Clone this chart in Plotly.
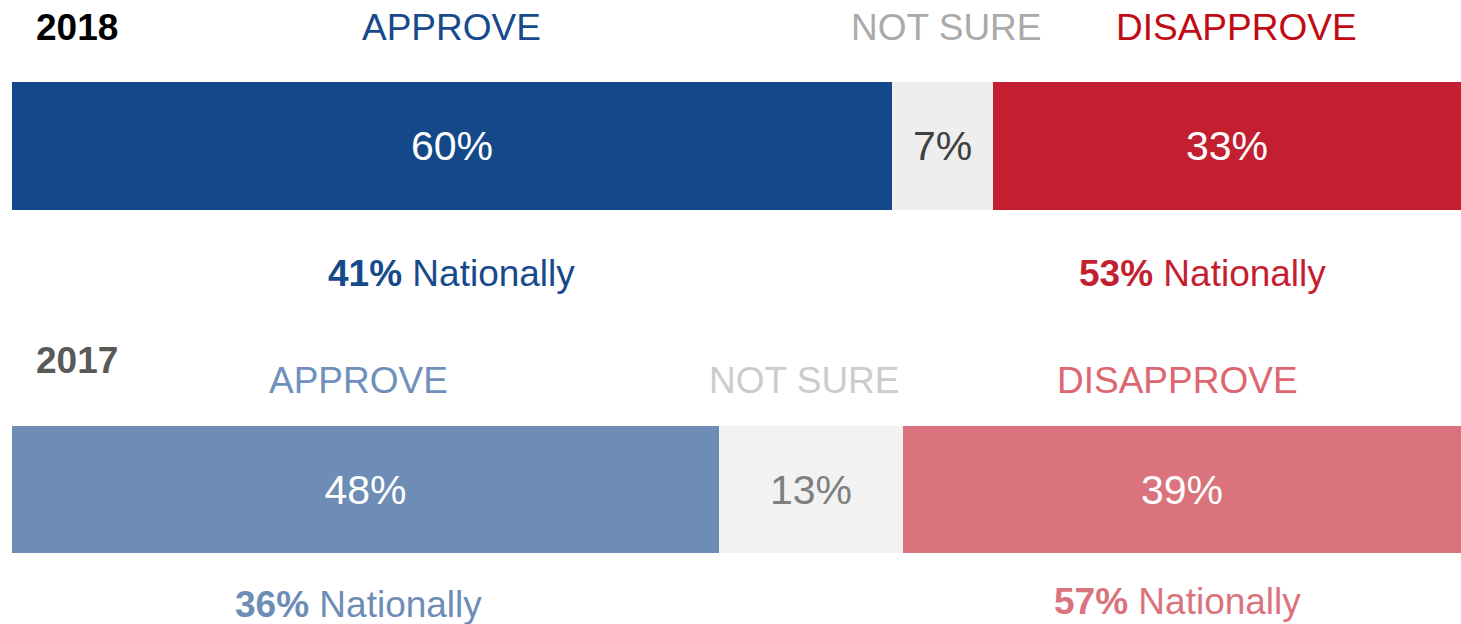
import plotly.graph_objects as go

# ---- data ----
years = ["2018", "2017"]
categories = ["APPROVE", "NOT SURE", "DISAPPROVE"]
values_2018 = [60.7, 7.0, 32.3]
values_2017 = [48.8, 12.7, 38.5]
labels_2018 = ["60%", "7%", "33%"]
labels_2017 = ["48%", "13%", "39%"]
national_2018 = ["41%", "53%"]   # approve, disapprove
national_2017 = ["36%", "57%"]

# ---- styles ----
W, H = 1461, 624
FONT = "Liberation Sans, Arial, sans-serif"
bar_colors = {
    "2018": ["#154889", "#EEEEEE", "#C41F31"],
    "2017": ["#6D8DB6", "#F2F2F2", "#DA737D"],
}
bar_text_colors = {
    "2018": ["#FFFFFF", "#404040", "#FFFFFF"],
    "2017": ["#FFFFFF", "#7F7F7F", "#FFFFFF"],
}
header_colors = {
    "2018": ["#174A8B", "#AAAAAA", "#C00A14"],
    "2017": ["#7090BC", "#CCCCCC", "#DE6670"],
}
national_colors = {
    "2018": ["#174A8B", "#C41F31"],
    "2017": ["#6D8DB6", "#DA737D"],
}
year_colors = {"2018": "#000000", "2017": "#595959"}

# layout positions (pixel rows, y axis in pixels top->bottom) and small x nudges
rows = {
    "2018": dict(year_y=27, head_y=27, bar_y=146, bar_w=128, nat_y=[273, 273],
                 head_dx=[0, 4, 10], nat_dx=[0, -24]),
    "2017": dict(year_y=360, head_y=380, bar_y=489.5, bar_w=127, nat_y=[604, 601],
                 head_dx=[-7, -7, -5], nat_dx=[-7, -5]),
}
left_px = 12
plot_w = W - left_px
x_min = -left_px / plot_w * 100

fig = go.Figure()
annotations = []

data = {"2018": (values_2018, labels_2018, national_2018),
        "2017": (values_2017, labels_2017, national_2017)}

for yr in years:
    vals, labs, nats = data[yr]
    r = rows[yr]
    base = 0
    centers = []
    for i, cat in enumerate(categories):
        fig.add_trace(go.Bar(
            x=[vals[i]], y=[r["bar_y"]], base=[base], width=r["bar_w"],
            orientation="h",
            marker=dict(color=bar_colors[yr][i], line=dict(width=0)),
            text=[labs[i]], textposition="inside", insidetextanchor="middle",
            textangle=0,
            textfont=dict(family=FONT, size=41, color=bar_text_colors[yr][i]),
            hoverinfo="skip", showlegend=False,
        ))
        centers.append(base + vals[i] / 2)
        base += vals[i]
        annotations.append(dict(
            x=centers[-1], y=r["head_y"], xref="x", yref="y", xshift=r["head_dx"][i],
            text=cat, showarrow=False, xanchor="center", yanchor="middle",
            font=dict(family=FONT, size=37, color=header_colors[yr][i]),
        ))
    # year label
    annotations.append(dict(
        x=34 / W, y=r["year_y"], xref="paper", yref="y",
        text=f"<b>{yr}</b>", showarrow=False, xanchor="left", yanchor="middle",
        font=dict(family=FONT, size=37, color=year_colors[yr]),
    ))
    # national labels
    for j, idx in enumerate([0, 2]):
        annotations.append(dict(
            x=centers[idx], y=r["nat_y"][j], xref="x", yref="y", xshift=r["nat_dx"][j],
            text=f"<b>{nats[j]}</b> Nationally", showarrow=False,
            xanchor="center", yanchor="middle",
            font=dict(family=FONT, size=37, color=national_colors[yr][j]),
        ))

fig.update_layout(
    width=W, height=H,
    margin=dict(l=0, r=0, t=0, b=0),
    paper_bgcolor="white", plot_bgcolor="white",
    barmode="overlay", bargap=0,
    xaxis=dict(range=[x_min, 100], visible=False, fixedrange=True),
    yaxis=dict(range=[H, 0], visible=False, fixedrange=True),
    annotations=annotations,
    showlegend=False,
)

fig.write_html("out.html", config={"displayModeBar": False})
